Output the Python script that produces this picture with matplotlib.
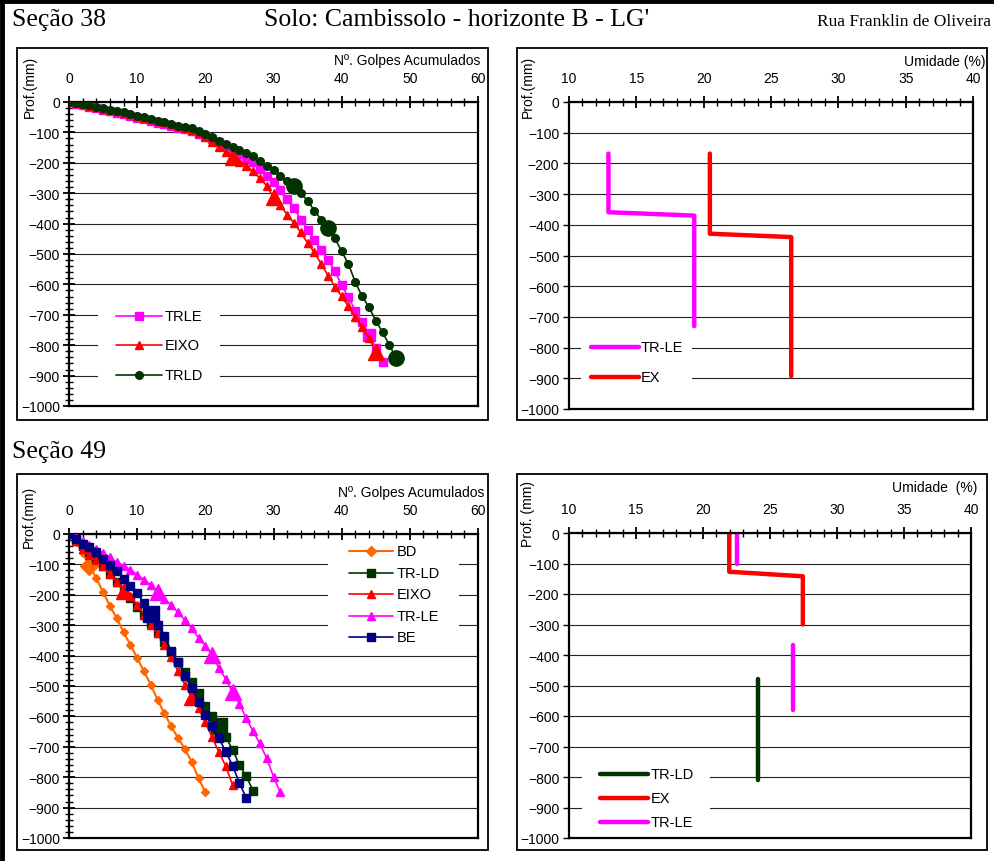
import matplotlib
matplotlib.use('Agg')
import matplotlib.pyplot as plt
from matplotlib.patches import Rectangle
from matplotlib.lines import Line2D
from matplotlib.ticker import MultipleLocator
import numpy as np

plt.rcParams['font.family'] = ['Liberation Sans', 'DejaVu Sans']

# ---------------- DATA ----------------
# Seção 38 - golpes acumulados x profundidade (mm)
s38_trle_golpes = [0,1,2,3,4,5,6,7,8,9,10,11,12,13,14,15,16,17,18,19,20,21,22,23,24,25,26,27,28,29,30,31,32,33,34,35,36,37,38,39,40,41,42,43,44,45,46]
s38_trle_prof = [0,-5,-10,-15,-20,-26,-31,-36,-41,-46,-52,-57,-62,-68,-73,-78,-84,-89,-96,-104,-112,-122,-133,-145,-158,-172,-185,-198,-220,-242,-264,-290,-318,-349,-387,-421,-453,-487,-519,-557,-602,-643,-686,-725,-765,-810,-856]
s38_eixo_golpes = [0,1,2,3,4,5,6,7,8,9,10,11,12,13,14,15,16,17,18,19,20,21,22,23,24,25,26,27,28,29,30,31,32,33,34,35,36,37,38,39,40,41,42,43,44,45]
s38_eixo_prof = [0,-4,-8,-12,-17,-22,-27,-31,-36,-41,-46,-51,-56,-61,-66,-72,-78,-84,-92,-102,-115,-133,-148,-164,-182,-196,-209,-228,-251,-275,-314,-339,-371,-398,-429,-464,-495,-533,-571,-607,-639,-672,-708,-739,-777,-823]
s38_trld_golpes = [0,1,2,3,4,5,6,7,8,9,10,11,12,13,14,15,16,17,18,19,20,21,22,23,24,25,26,27,28,29,30,31,32,33,34,35,36,37,38,39,40,41,42,43,44,45,46,47,48]
s38_trld_prof = [0,-2,-5,-10,-15,-20,-25,-30,-34,-39,-45,-50,-56,-61,-66,-72,-78,-82,-87,-94,-104,-116,-128,-138,-149,-157,-167,-179,-195,-209,-224,-242,-260,-276,-299,-325,-357,-387,-414,-448,-491,-533,-593,-639,-675,-719,-758,-799,-843]

# Seção 38 - umidade (%) x profundidade (mm)
s38_um_trle = [12.93, 12.93, 19.3, 19.3]
s38_um_trle_prof = [-168, -359, -370, -730]
s38_um_ex = [20.46, 20.46, 26.5, 26.5]
s38_um_ex_prof = [-168, -429, -440, -893]

# Seção 49 - golpes acumulados x profundidade (mm)
s49_bd_golpes = [0,1,2,3,4,5,6,7,8,9,10,11,12,13,14,15,16,17,18,19,20]
s49_bd_prof = [0,-25,-62,-105,-145,-192,-236,-277,-323,-364,-408,-452,-496,-546,-590,-633,-671,-707,-751,-803,-850]
s49_trld_golpes = [0,1,2,3,4,5,6,7,8,9,10,11,12,13,14,15,16,17,18,19,20,21,22,23,24,25,26,27]
s49_trld_prof = [0,-20,-40,-60,-82,-105,-130,-158,-185,-212,-240,-268,-297,-326,-356,-388,-420,-453,-488,-524,-565,-600,-633,-669,-709,-760,-797,-844]
s49_eixo_golpes = [0,1,2,3,4,5,6,7,8,9,10,11,12,13,14,15,16,17,18,19,20,21,22,23,24]
s49_eixo_prof = [0,-22,-49,-69,-86,-106,-132,-159,-186,-203,-234,-265,-298,-327,-364,-406,-452,-496,-537,-572,-620,-669,-718,-764,-826]
s49_trle_golpes = [0,1,2,3,4,5,6,7,8,9,10,11,12,13,14,15,16,17,18,19,20,21,22,23,24,25,26,27,28,29,30,31]
s49_trle_prof = [0,-8,-22,-36,-49,-62,-77,-93,-104,-117,-134,-150,-168,-192,-214,-234,-258,-283,-310,-342,-367,-398,-442,-477,-521,-559,-606,-649,-689,-738,-798,-850]
s49_be_golpes = [0,1,2,3,4,5,6,7,8,9,10,11,12,13,14,15,16,17,18,19,20,21,22,23,24,25,26]
s49_be_prof = [0,-16,-33,-44,-60,-82,-102,-123,-148,-172,-195,-227,-263,-298,-334,-386,-422,-466,-508,-552,-595,-630,-672,-716,-762,-819,-868]

# Seção 49 - umidade (%) x profundidade (mm)
s49_um_trld = [24.14, 24.14]
s49_um_trld_prof = [-478, -811]
s49_um_ex = [21.96, 21.96, 27.45, 27.45]
s49_um_ex_prof = [0, -127, -142, -300]
s49_um_trle = [22.55, 22.55, np.nan, 26.7, 26.7]
s49_um_trle_prof = [0, -102, np.nan, -366, -579]

golpes_ticks = [0, 10, 20, 30, 40, 50, 60]
umid_ticks = [10, 15, 20, 25, 30, 35, 40]
prof_ticks = [0, -100, -200, -300, -400, -500, -600, -700, -800, -900, -1000]

# ---------------- FIGURE ----------------
W, H = 994, 862
fig = plt.figure(figsize=(W / 100, H / 100), dpi=100)
fig.patch.set_facecolor('white')

def fx(x):
    return x / W

def fy(y):
    return 1 - y / H

def ax_at(x0, y0, x1, y1):
    return fig.add_axes([fx(x0), fy(y1), (x1 - x0) / W, (y1 - y0) / H])

# outer frame (top and left)
fig.add_artist(Line2D([0, 1], [fy(1.5), fy(1.5)], color='black', lw=3.5, transform=fig.transFigure))
fig.add_artist(Line2D([fx(1.5), fx(1.5)], [0, 1], color='black', lw=3.5, transform=fig.transFigure))

# panel boxes
for (x0, y0, x1, y1) in [(17, 49, 488, 421), (517, 49, 987, 421), (17, 475, 488, 851), (517, 475, 987, 851)]:
    fig.patches.append(Rectangle((fx(x0), fy(y1)), (x1 - x0) / W, (y1 - y0) / H,
                                 transform=fig.transFigure, facecolor='none', edgecolor='black', lw=1.3, zorder=1))

serif = ['Liberation Serif', 'DejaVu Serif']
fig.text(fx(12), fy(20), 'Seção 38', fontsize=18.5, family=serif, va='center', ha='left')
fig.text(fx(457), fy(20), "Solo: Cambissolo - horizonte B - LG'", fontsize=18.5, family=serif, va='center', ha='center')
fig.text(fx(991), fy(22), 'Rua Franklin de Oliveira', fontsize=12.5, family=serif, va='center', ha='right')
fig.text(fx(12), fy(452), 'Seção 49', fontsize=18.5, family=serif, va='center', ha='left')


def style_golpes(ax):
    ax.set_xlim(0, 60)
    ax.set_ylim(-1000, 0)
    ax.xaxis.tick_top()
    ax.set_xticks(golpes_ticks)
    ax.set_yticks(prof_ticks)
    ax.xaxis.set_minor_locator(MultipleLocator(2))
    ax.yaxis.set_minor_locator(MultipleLocator(20))
    ax.tick_params(axis='both', which='major', direction='inout', length=9, width=1.3, labelsize=10)
    ax.tick_params(axis='both', which='minor', direction='inout', length=6, width=1.0)
    ax.tick_params(axis='x', which='major', pad=8)
    ax.tick_params(axis='y', which='major', pad=2)
    ax.grid(axis='y', which='major', color='#222222', lw=0.8)
    ax.set_axisbelow(True)
    for s in ax.spines.values():
        s.set_linewidth(1.6)


def style_umid(ax):
    ax.set_xlim(10, 40)
    ax.set_ylim(-1000, 0)
    ax.xaxis.tick_top()
    ax.set_xticks(umid_ticks)
    ax.set_yticks(prof_ticks)
    ax.xaxis.set_minor_locator(MultipleLocator(1))
    ax.tick_params(axis='x', which='major', direction='inout', length=9, width=1.3, labelsize=10, pad=8)
    ax.tick_params(axis='x', which='minor', direction='inout', length=6, width=1.0)
    ax.tick_params(axis='y', which='major', direction='out', length=4, width=1.0, labelsize=10, pad=3)
    ax.grid(axis='y', which='major', color='#222222', lw=0.8)
    ax.set_axisbelow(True)
    for s in ax.spines.values():
        s.set_linewidth(1.6)


def legend(entries, x0, x1, xt, ys, box):
    bx0, by0, bx1, by1 = box
    fig.patches.append(Rectangle((fx(bx0), fy(by1)), (bx1 - bx0) / W, (by1 - by0) / H,
                                 transform=fig.transFigure, facecolor='white', edgecolor='none', zorder=5))
    for (c, m, ms, lw, lab), y in zip(entries, ys):
        fig.add_artist(Line2D([fx(x0), fx(x1)], [fy(y), fy(y)], color=c, lw=lw,
                              solid_capstyle='round', transform=fig.transFigure, zorder=6))
        if m:
            fig.add_artist(Line2D([fx((x0 + x1) / 2)], [fy(y)], marker=m, ms=ms, color=c, ls='none',
                                  transform=fig.transFigure, zorder=7))
        fig.text(fx(xt), fy(y), lab, va='center', ha='left', fontsize=10.5, zorder=8)


MAG = '#FF00FF'
RED = '#FF0000'
DKG = '#003300'
ORA = '#FF6600'
NAV = '#000080'

# ---------- Seção 38 golpes ----------
ax1 = ax_at(69, 103, 478, 407)
style_golpes(ax1)
ax1.plot(s38_trle_golpes, s38_trle_prof, color=MAG, lw=1.2, marker='s', ms=5.5, zorder=3)
ax1.plot(s38_trle_golpes, s38_trle_prof, ls='none', color=MAG, marker='s', ms=9, markevery=[44], zorder=3)
ax1.plot(s38_eixo_golpes, s38_eixo_prof, color=RED, lw=1.2, marker='^', ms=6, zorder=4)
ax1.plot(s38_eixo_golpes, s38_eixo_prof, ls='none', color=RED, marker='^', ms=12, markevery=[24, 30, 45], zorder=4)
ax1.plot(s38_trld_golpes, s38_trld_prof, color=DKG, lw=1.2, marker='o', ms=5.5, zorder=5)
ax1.plot(s38_trld_golpes, s38_trld_prof, ls='none', color=DKG, marker='o', ms=11, markevery=[33, 38, 48], zorder=5)
fig.text(fx(480), fy(61), 'Nº. Golpes Acumulados', ha='right', va='center', fontsize=10)
fig.text(fx(30), fy(87), 'Prof.(mm)', rotation=90, ha='center', va='center', fontsize=10)
legend([(MAG, 's', 5.5, 1.2, 'TRLE'), (RED, '^', 6, 1.2, 'EIXO'), (DKG, 'o', 5.5, 1.2, 'TRLD')],
       116, 162, 165, [317, 346, 376], (98, 303, 220, 390))

# ---------- Seção 38 umidade ----------
ax2 = ax_at(569, 103, 973, 410)
style_umid(ax2)
ax2.plot(s38_um_trle, s38_um_trle_prof, color=MAG, lw=3.2, solid_capstyle='round', solid_joinstyle='round')
ax2.plot(s38_um_ex, s38_um_ex_prof, color=RED, lw=3.2, solid_capstyle='round', solid_joinstyle='round')
fig.text(fx(986), fy(62), 'Umidade (%)', ha='right', va='center', fontsize=10)
fig.text(fx(528), fy(87), 'Prof.(mm)', rotation=90, ha='center', va='center', fontsize=10)
legend([(MAG, None, 0, 3.2, 'TR-LE'), (RED, None, 0, 3.2, 'EX')],
       591, 639, 641, [348, 378], (581, 335, 692, 392))

# ---------- Seção 49 golpes ----------
ax3 = ax_at(69, 535, 478, 839)
style_golpes(ax3)
ax3.plot(s49_bd_golpes, s49_bd_prof, color=ORA, lw=1.5, marker='D', ms=4.5, zorder=3)
ax3.plot(s49_bd_golpes, s49_bd_prof, ls='none', color=ORA, marker='D', ms=9, markevery=[3], zorder=3)
ax3.plot(s49_trld_golpes, s49_trld_prof, color=DKG, lw=1.2, marker='s', ms=6, zorder=4)
ax3.plot(s49_trld_golpes, s49_trld_prof, ls='none', color=DKG, marker='s', ms=11, markevery=[22], zorder=4)
ax3.plot(s49_eixo_golpes, s49_eixo_prof, color=RED, lw=1.2, marker='^', ms=6, zorder=5)
ax3.plot(s49_eixo_golpes, s49_eixo_prof, ls='none', color=RED, marker='^', ms=12, markevery=[8, 18], zorder=5)
ax3.plot(s49_trle_golpes, s49_trle_prof, color=MAG, lw=1.2, marker='^', ms=6, zorder=4)
ax3.plot(s49_trle_golpes, s49_trle_prof, ls='none', color=MAG, marker='^', ms=12, markevery=[13, 21, 24], zorder=4)
ax3.plot(s49_be_golpes, s49_be_prof, color=NAV, lw=1.2, marker='s', ms=6, zorder=6)
ax3.plot(s49_be_golpes, s49_be_prof, ls='none', color=NAV, marker='s', ms=12, markevery=[12], zorder=6)
fig.text(fx(484), fy(493), 'Nº. Golpes Acumulados', ha='right', va='center', fontsize=10)
fig.text(fx(29), fy(517), 'Prof.(mm)', rotation=90, ha='center', va='center', fontsize=10)
legend([(ORA, 'D', 5, 1.5, 'BD'), (DKG, 's', 6, 1.2, 'TR-LD'), (RED, '^', 6, 1.2, 'EIXO'),
        (MAG, '^', 6, 1.2, 'TR-LE'), (NAV, 's', 6, 1.2, 'BE')],
       349, 393, 397, [552, 574, 595, 617, 638], (328, 541, 459, 648))

# ---------- Seção 49 umidade ----------
ax4 = ax_at(569, 534, 971, 839)
style_umid(ax4)
ax4.plot(s49_um_trld, s49_um_trld_prof, color=DKG, lw=3.2, solid_capstyle='round', solid_joinstyle='round')
ax4.plot(s49_um_ex, s49_um_ex_prof, color=RED, lw=3.2, solid_capstyle='round', solid_joinstyle='round')
ax4.plot(s49_um_trle, s49_um_trle_prof, color=MAG, lw=3.2, solid_capstyle='round', solid_joinstyle='round')
fig.text(fx(977), fy(488), 'Umidade  (%)', ha='right', va='center', fontsize=10)
fig.text(fx(528), fy(514), 'Prof. (mm)', rotation=90, ha='center', va='center', fontsize=10)
legend([(DKG, None, 0, 3.2, 'TR-LD'), (RED, None, 0, 3.2, 'EX'), (MAG, None, 0, 3.2, 'TR-LE')],
       600, 648, 651, [775, 799, 823], (582, 765, 710, 834))

fig.savefig('out.png', dpi=100)
